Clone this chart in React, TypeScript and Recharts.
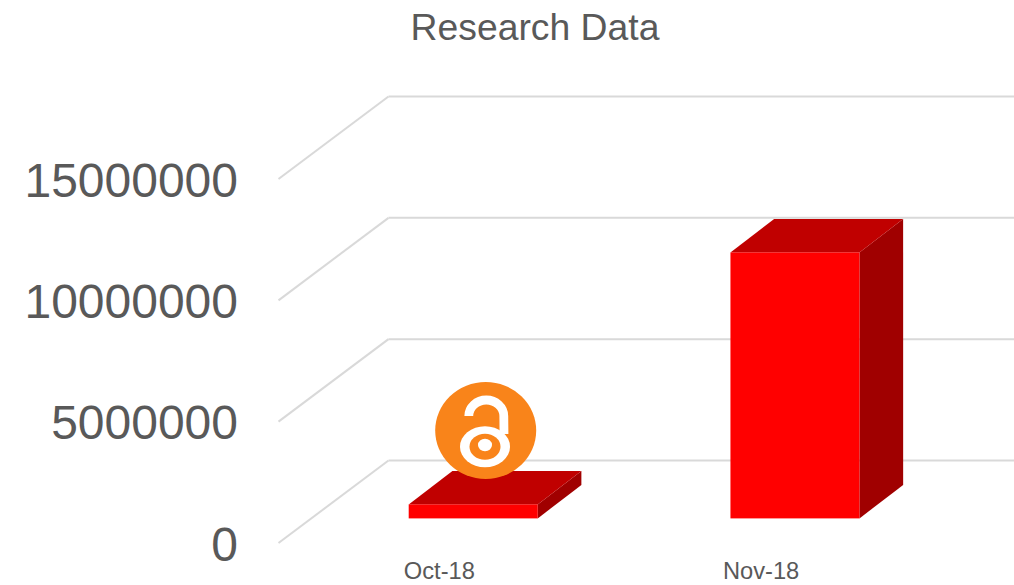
import { BarChart, Bar, XAxis, YAxis, CartesianGrid } from "recharts";

const months = ["Oct-18", "Nov-18"];
const downloads = [577000, 10960000];
const yTicks = [0, 5000000, 10000000, 15000000];

const chartData = months.map((month, i) => ({ month, value: downloads[i] }));

// fake 3D: how far the back wall sits behind the axis plane
const WALL_DX = 110;
const WALL_DY = -82.5;
// the bars stand part way into the floor
const BAR_DX = 34.2;
const BAR_DY = -24.6;
const BAR_DEPTH_X = 43.7;
const BAR_DEPTH_Y = -33.5;

const WallLine = (props: any) => {
  const { x1, y1, x2, y2 } = props;
  return (
    <g key={props.key}>
      <line x1={x1} y1={y1} x2={x1 + WALL_DX} y2={y1 + WALL_DY} stroke="#d9d9d9" strokeWidth={2} />
      <line x1={x1 + WALL_DX} y1={y1 + WALL_DY} x2={x2 + WALL_DX} y2={y2 + WALL_DY} stroke="#d9d9d9" strokeWidth={2} />
    </g>
  );
};

const Bar3D = (props: any) => {
  const { x, y, width, height } = props;
  const left = x + BAR_DX;
  const right = left + width;
  const top = y + BAR_DY;
  const bottom = top + height;
  const bx = BAR_DEPTH_X;
  const by = BAR_DEPTH_Y;
  return (
    <g>
      <polygon
        points={`${right},${top} ${right + bx},${top + by} ${right + bx},${bottom + by} ${right},${bottom}`}
        fill="#a00000"
      />
      <polygon
        points={`${left},${top} ${left + bx},${top + by} ${right + bx},${top + by} ${right},${top}`}
        fill="#c00000"
      />
      <rect x={left} y={top} width={width} height={height} fill="#ff0000" />
    </g>
  );
};

// open access padlock badge sitting on the first bar
const OpenAccessBadge = () => (
  <g>
    <ellipse cx={485.7} cy={430.5} rx={50.5} ry={48.5} fill="#f9841a" />
    <path d="M468.8 416 A17.5 16 0 0 1 503.8 416 L504 434" fill="none" stroke="#fff" strokeWidth={8.8} />
    <ellipse cx={485} cy={446.7} rx={25} ry={20.5} fill="#fff" />
    <ellipse cx={485} cy={446.7} rx={15.5} ry={13} fill="#f9841a" />
    <ellipse cx={485} cy={445} rx={7} ry={6.2} fill="#fff" />
  </g>
);

export default function App() {
  return (
    <div style={{ position: "absolute", left: 0, top: 0, width: 1014, height: 585, overflow: "hidden", background: "#fff" }}>
      <BarChart
        width={1014}
        height={585}
        data={chartData}
        margin={{ top: 179, right: 92, bottom: 0, left: 0 }}
      >
        <CartesianGrid vertical={false} horizontal={WallLine} />
        <XAxis
          dataKey="month"
          height={42}
          axisLine={false}
          tickLine={false}
          tickMargin={13}
          tick={{ fontFamily: "Liberation Sans", fontSize: 23.7, fill: "#595959" }}
        />
        <YAxis
          width={278.5}
          domain={[0, 15000000]}
          ticks={yTicks}
          interval={0}
          axisLine={false}
          tickLine={false}
          tickMargin={34.5}
          tick={{ fontFamily: "Liberation Sans", fontSize: 48, fill: "#595959", dy: 0.5 }}
        />
        <Bar dataKey="value" barSize={129} shape={Bar3D} isAnimationActive={false} />
      </BarChart>
      <svg width={1014} height={585} style={{ position: "absolute", left: 0, top: 0 }}>
        <text x={535} y={39.5} textAnchor="middle" fontFamily="Liberation Sans" fontSize={37.3} fill="#595959">
          Research Data
        </text>
        <OpenAccessBadge />
      </svg>
    </div>
  );
}
